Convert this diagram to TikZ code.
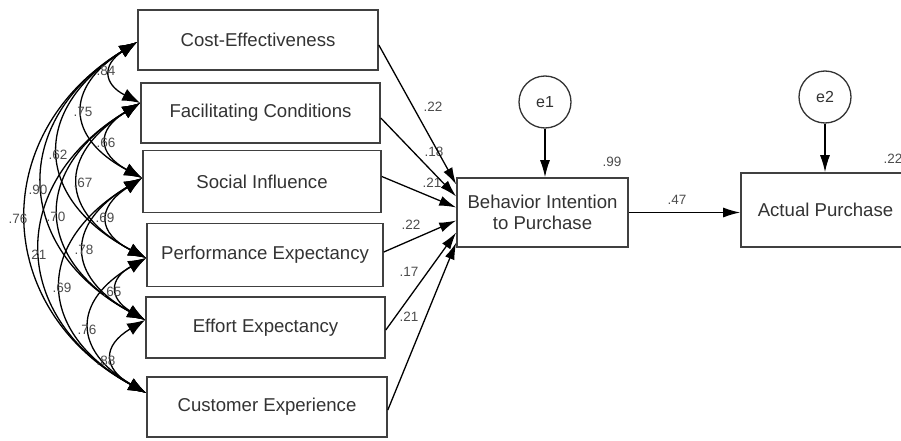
\documentclass[tikz,border=0pt]{standalone}
\usepackage{fontspec}
\setmainfont{Liberation Sans}
\usetikzlibrary{arrows.meta,calc}
\begin{document}
\begin{tikzpicture}[x=1pt,y=-1pt,
  box/.style={draw=black!75,line width=1.6pt,fill=white,inner sep=0pt,text=black!80,font=\fontsize{18.6}{21.5}\selectfont,align=center},
  err/.style={draw=black!80,line width=1.3pt,circle,minimum size=52pt,inner sep=0pt,font=\fontsize{16}{18}\selectfont,text=black!80},
  coef/.style={font=\fontsize{13.5}{15}\selectfont,text=black!70,inner sep=0pt},
  cov/.style={{Latex[length=18pt,width=13pt]}-{Latex[length=18pt,width=13pt]},line width=1.3pt,bend right=60},
  reg/.style={-{Latex[length=17pt,width=10pt]},line width=1.3pt}
]
\useasboundingbox (0,0) rectangle (901,441);

% exogenous boxes
\node[box,minimum width=240pt,minimum height=60pt] (c1) at (258,40) {Cost-Effectiveness};
\node[box,minimum width=239pt,minimum height=60pt] (c2) at (260.5,113) {Facilitating Conditions};
\node[box,minimum width=238pt,minimum height=62pt] (c3) at (262,181.5) {Social Influence};
\node[box,minimum width=236pt,minimum height=63pt] (c4) at (265,255) {Performance Expectancy};
\node[box,minimum width=239pt,minimum height=61pt] (c5) at (265.5,327.5) {Effort Expectancy};
\node[box,minimum width=240pt,minimum height=60pt] (c6) at (267,407) {Customer Experience};

% endogenous boxes
\node[box,minimum width=171pt,minimum height=69pt] (bi) at (542.5,212.5) {Behavior Intention\\to Purchase};
\node[box,minimum width=169pt,minimum height=74pt] (ap) at (825.5,210) {Actual Purchase};

% error terms
\node[err] (e1) at (545,102) {e1};
\node[err] (e2) at (825,97) {e2};

% covariance end points
\coordinate (p1) at ($(c1.west)+(0,2)$);
\coordinate (p2) at ($(c2.west)+(0,-10)$);
\coordinate (p3) at ($(c3.west)+(0,-3.5)$);
\coordinate (p4) at ($(c4.west)+(0,3)$);
\coordinate (p5) at ($(c5.west)+(0,-7.5)$);
\coordinate (p6) at ($(c6.west)+(0,-14)$);

\foreach \i/\j/\l in {1/2/1.75,2/3/1.75,3/4/1.75,4/5/1.75,5/6/1.75,
                      1/3/1.62,2/4/1.62,3/5/1.62,4/6/1.62,
                      1/4/1.5,2/5/1.5,3/6/1.5,
                      1/5/1.38,2/6/1.38,
                      1/6/1.28}
  \draw[cov,looseness=\l] (p\i) to (p\j);

% covariance labels
\node[coef] at (106,71) {.84};
\node[coef] at (83,112) {.75};
\node[coef] at (106,143) {.66};
\node[coef] at (58,155) {.62};
\node[coef] at (83,183) {.67};
\node[coef] at (38,190) {.90};
\node[coef] at (18,219) {.76};
\node[coef] at (56,217) {.70};
\node[coef] at (105,218) {.69};
\node[coef] at (37,255) {.21};
\node[coef] at (84,250) {.78};
\node[coef] at (62,288) {.69};
\node[coef] at (112,292) {.65};
\node[coef] at (87,330) {.76};
\node[coef] at (106,361) {.88};

% regression labels
\node[coef] at (433,107) {.22};
\node[coef] at (434,152) {.18};
\node[coef] at (432,183) {.21};
\node[coef] at (411,225) {.22};
\node[coef] at (409,272) {.17};
\node[coef] at (409,317) {.21};
\node[coef] at (612,162) {.99};
\node[coef] at (677,200) {.47};
\node[coef] at (893,159) {.22};

% regression targets
\coordinate (t1) at ($(bi.west)+(0,-28)$);
\coordinate (t2) at ($(bi.west)+(0,-16)$);
\coordinate (t3) at ($(bi.west)+(0,-5)$);
\coordinate (t4) at ($(bi.west)+(0,8)$);
\coordinate (t5) at ($(bi.west)+(0,20)$);
\coordinate (t6) at ($(bi.west)+(0,30)$);

\draw[reg] ($(c1.east)+(0,5)$) -- (t1);
\draw[reg] ($(c2.east)+(0,5)$) -- (t2);
\draw[reg] ($(c3.east)+(0,-5)$) -- (t3);
\draw[reg] ($(c4.east)+(0,-3)$) -- (t4);
\draw[reg] ($(c5.east)+(0,2.5)$) -- (t5);
\draw[reg] ($(c6.east)+(0,3)$) -- (t6);

\draw[reg] (bi.east) -- (ap.west |- bi.east);
\draw[reg] (e1.south) -- (e1.south |- bi.north);
\draw[reg] (e2.south) -- (e2.south |- ap.north);
\end{tikzpicture}
\end{document}
